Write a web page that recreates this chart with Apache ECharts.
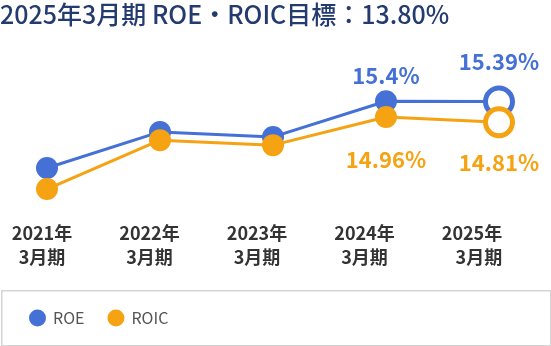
<!DOCTYPE html>
<html><head><meta charset="utf-8">
<script src="https://cdn.jsdelivr.net/npm/echarts@6/dist/echarts.min.js"></script>
<style>html,body{margin:0;padding:0;background:#fff}#c{width:551px;height:346px}</style>
</head><body><div id="c"></div>
<script>
var titleText = '2025年3月期 ROE・ROIC目標：13.80%';
var categories = ['2021年\n3月期', '2022年\n3月期', '2023年\n3月期', '2024年\n3月期', '2025年\n3月期'];
var roeValues = [13.53, 14.54, 14.40, 15.4, 15.39];
var roicValues = [12.94, 14.31, 14.17, 14.96, 14.81];
var labeledIdx = [3, 4];
var seriesNames = ['ROE', 'ROIC'];
var blue = '#4570d5', orange = '#f5a213';
var FONT = '"Noto Sans CJK JP","Noto Sans",sans-serif';

function buildData(vals, color, pos, dists) {
  return vals.map(function (v, i) {
    var last = i === vals.length - 1;
    var item = { value: v };
    if (last) {
      item.symbolSize = 27;
      item.itemStyle = { color: '#fff', borderColor: color, borderWidth: 5 };
    }
    var li = labeledIdx.indexOf(i);
    if (li >= 0) {
      item.label = {
        show: true, position: pos, distance: dists[li],
        color: color, fontSize: 22, fontWeight: 'bold', lineHeight: 22,
        fontFamily: FONT,
        formatter: function (p) { return p.value + '%'; }
      };
    }
    return item;
  });
}

var chart = echarts.init(document.getElementById('c'), null, { renderer: 'canvas' });
chart.setOption({
  animation: false,
  title: {
    text: titleText, left: 0, top: 0, padding: 0,
    textStyle: { color: '#233b6e', fontSize: 25, fontWeight: 500, fontFamily: FONT, lineHeight: 28 }
  },
  legend: {
    data: seriesNames, left: 29, top: 309.5, padding: 0, icon: 'circle',
    itemWidth: 17, itemHeight: 17, itemGap: 23,
    textStyle: { color: '#555', fontSize: 16, fontFamily: FONT, padding: [0, 0, 0, 2] }
  },
  graphic: [{
    type: 'rect', left: 1, top: 290, z: -1,
    shape: { width: 549, height: 55 },
    style: { fill: 'transparent', stroke: '#d4d4d4', lineWidth: 1.5 }
  }],
  grid: [
    { left: 47, right: 52, top: 79.8, bottom: 130.5 },
    { left: 42, right: 79, top: 100, bottom: 127 }
  ],
  xAxis: [
    { type: 'category', gridIndex: 0, data: categories, boundaryGap: false,
      axisLine: { show: false }, axisTick: { show: false }, axisLabel: { show: false }, splitLine: { show: false } },
    { type: 'category', gridIndex: 1, data: categories, boundaryGap: false,
      axisLine: { show: false }, axisTick: { show: false }, splitLine: { show: false },
      axisLabel: {
        interval: 0, hideOverlap: false,
        margin: 2, color: '#333', fontSize: 18, fontWeight: 'bold', lineHeight: 24, fontFamily: FONT,
        formatter: function (v, i) {
          var parts = v.split('\n');
          if (i === categories.length - 1) return '{r|' + parts[0] + '}\n{r|' + parts[1] + '}';
          return v;
        },
        rich: { r: { align: 'right', color: '#333', fontSize: 18, fontWeight: 'bold', lineHeight: 24, fontFamily: FONT } }
      } }
  ],
  yAxis: [
    { type: 'value', gridIndex: 0, min: 12.2, max: 16, show: false, splitLine: { show: false } },
    { type: 'value', gridIndex: 1, show: false, splitLine: { show: false } }
  ],
  series: [
    { name: 'ROE', type: 'line', xAxisIndex: 0, yAxisIndex: 0, color: blue,
      symbol: 'circle', symbolSize: 22, lineStyle: { width: 3, color: blue },
      itemStyle: { color: blue }, data: buildData(roeValues, blue, 'top', [4, 13]) },
    { name: 'ROIC', type: 'line', xAxisIndex: 0, yAxisIndex: 0, color: orange,
      symbol: 'circle', symbolSize: 22, lineStyle: { width: 3, color: orange },
      itemStyle: { color: orange }, data: buildData(roicValues, orange, 'bottom', [21, 13]) }
  ]
});
</script></body></html>
